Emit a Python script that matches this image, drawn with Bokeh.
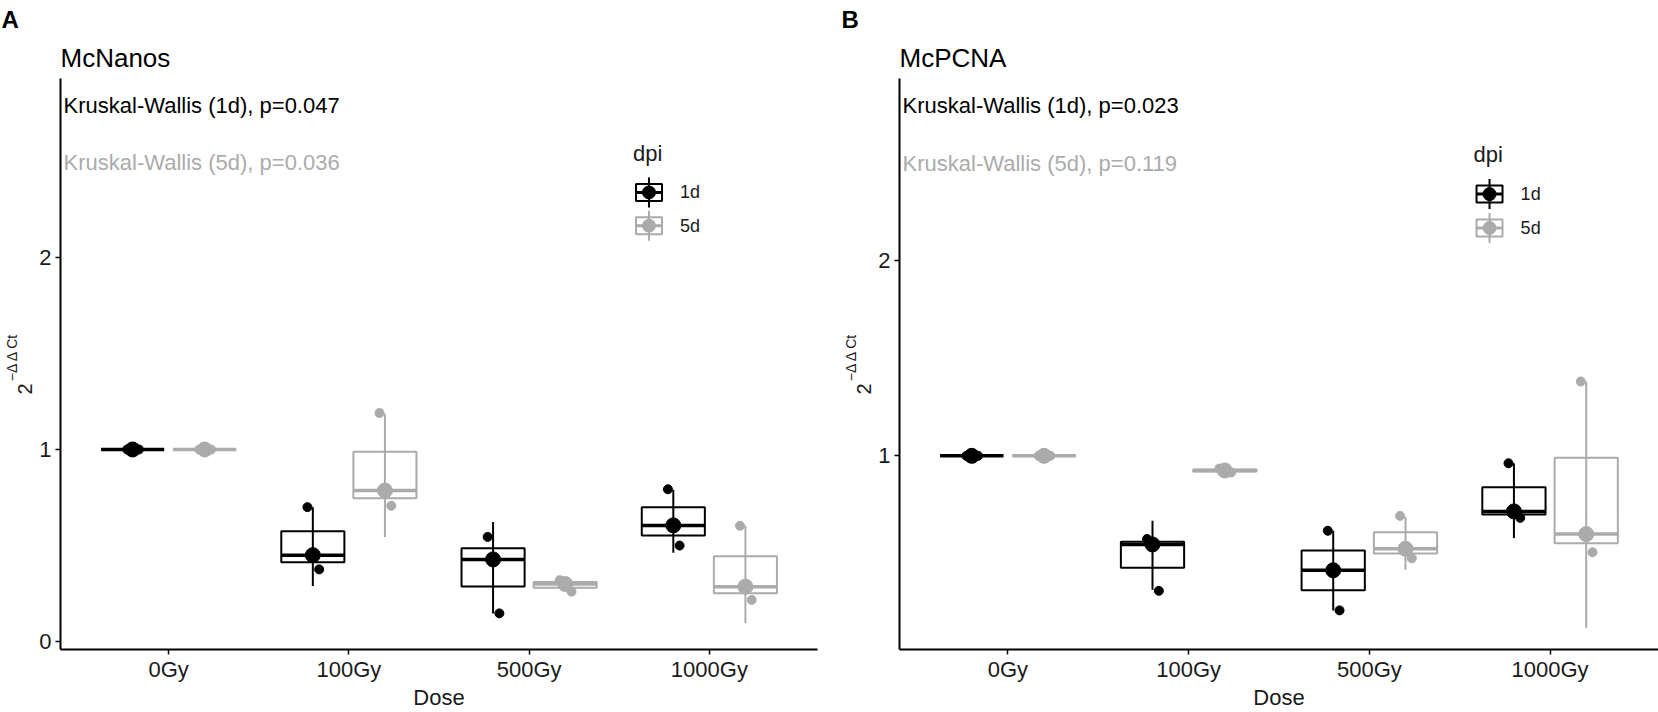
import numpy as np
from bokeh.plotting import figure
from bokeh.models import Range1d, FixedTicker, Label, Title
from bokeh.layouts import row
from bokeh.embed import file_html
from bokeh.resources import INLINE

# ---------------- data ----------------
doses = ["0Gy", "100Gy", "500Gy", "1000Gy"]
groups = ["1d", "5d"]

# McNanos (panel A): individual replicate values per dose
nanos_1d_points = [[1.0, 1.0, 1.0], [0.70, 0.45, 0.376], [0.545, 0.428, 0.147], [0.793, 0.605, 0.50]]
nanos_5d_points = [[1.0, 1.0, 1.0], [1.19, 0.786, 0.707], [0.32, 0.30, 0.26], [0.603, 0.286, 0.217]]
nanos_1d_range_lo = [1.0, 0.29, 0.147, 0.462]
nanos_1d_range_hi = [1.0, 0.70, 0.622, 0.79]
nanos_5d_range_lo = [1.0, 0.545, 0.265, 0.095]
nanos_5d_range_hi = [1.0, 1.186, 0.325, 0.603]
nanos_kw = ["Kruskal-Wallis (1d), p=0.047", "Kruskal-Wallis (5d), p=0.036"]

# McPCNA (panel B)
pcna_1d_points = [[1.0, 1.0, 1.0], [0.575, 0.547, 0.31], [0.617, 0.415, 0.21], [0.962, 0.716, 0.683]]
pcna_5d_points = [[1.0, 1.0, 1.0], [0.935, 0.925, 0.915], [0.693, 0.525, 0.476], [1.38, 0.60, 0.507]]
pcna_1d_range_lo = [1.0, 0.315, 0.21, 0.58]
pcna_1d_range_hi = [1.0, 0.668, 0.617, 0.962]
pcna_5d_range_lo = [1.0, 0.91, 0.418, 0.12]
pcna_5d_range_hi = [1.0, 0.94, 0.688, 1.38]
pcna_kw = ["Kruskal-Wallis (1d), p=0.023", "Kruskal-Wallis (5d), p=0.119"]

y_ticks = [0, 1, 2]

# ---------------- style ----------------
FONT = "Liberation Sans"
TXT = "#1A1A1A"
COLORS = {"1d": "#000000", "5d": "#ABABAB"}
DODGE = {"1d": -0.2, "5d": 0.2}
HALF_W = 0.175
JITTER = [-0.03, 0.01, 0.035]
# annotation anchors (data units)
KW_X, KW_Y = 0.417, [2.79, 2.495]
LEG_TITLE = (3.576, 2.54)
LEG_KEY_X, LEG_LAB_X, LEG_Y = 3.665, 3.837, [2.338, 2.165]


def make_panel(letter, title, pts, lo, hi, kw, x_rng, y_rng, width, left, right, letter_off):
    p = figure(width=width, height=712, title=None,
               x_range=Range1d(*x_rng), y_range=Range1d(*y_rng),
               output_backend="svg", toolbar_location=None,
               min_border_left=left, min_border_right=right,
               min_border_top=77, min_border_bottom=0)
    p.outline_line_color = None
    p.xgrid.visible = False
    p.ygrid.visible = False
    p.background_fill_color = "white"

    pos = np.arange(1, len(doses) + 1)
    p.xaxis.ticker = FixedTicker(ticks=list(pos))
    p.xaxis.major_label_overrides = {int(k): d for k, d in zip(pos, doses)}
    p.yaxis.ticker = FixedTicker(ticks=y_ticks)
    for ax in (p.xaxis[0], p.yaxis[0]):
        ax.axis_line_color = "black"
        ax.axis_line_width = 2
        ax.major_tick_line_color = "black"
        ax.major_tick_line_width = 1.5
        ax.major_tick_out = 5
        ax.major_tick_in = 0
        ax.minor_tick_line_color = None
        ax.major_label_text_font = FONT
        ax.major_label_text_font_size = "22px"
        ax.major_label_text_color = TXT
    p.xaxis.major_label_standoff = 2
    p.yaxis.major_label_standoff = 4
    p.xaxis.axis_label = "Dose"
    p.xaxis.axis_label_text_font = FONT
    p.xaxis.axis_label_text_font_size = "22px"
    p.xaxis.axis_label_text_font_style = "normal"
    p.xaxis.axis_label_text_color = TXT
    p.xaxis.axis_label_standoff = 0

    # titles above (first = nearest to the frame)
    p.add_layout(Title(text=title, align="left", text_font=FONT, text_font_size="26px",
                       text_font_style="normal", text_color="#000000", standoff=11), "above")
    p.add_layout(Title(text=letter, align="left", offset=letter_off, text_font=FONT,
                       text_font_size="24px", text_font_style="bold",
                       text_color="#000000", standoff=6), "above")

    # y-axis label 2^(-ΔΔCt) as two left titles, positioned from the frame top
    p.add_layout(Title(text="2", align="right", offset=305, text_font=FONT,
                       text_font_size="20px", text_font_style="normal",
                       text_color=TXT, standoff=10), "left")
    p.add_layout(Title(text="\u2212\u0394 \u0394 Ct", align="right", offset=254, text_font=FONT,
                       text_font_size="14px", text_font_style="normal",
                       text_color=TXT, standoff=-19), "left")

    for g in groups:
        c = COLORS[g]
        xs = pos + DODGE[g]
        arr = np.array(pts[g])
        q1, med, q3 = np.percentile(arr, [25, 50, 75], axis=1)
        p.quad(left=xs - HALF_W, right=xs + HALF_W, bottom=q1, top=q3,
               fill_alpha=0, line_color=c, line_width=2)
        p.segment(x0=xs - HALF_W, x1=xs + HALF_W, y0=med, y1=med,
                  line_color=c, line_width=3.5)
        p.segment(x0=xs, x1=xs, y0=lo[g], y1=hi[g], line_color=c, line_width=2)
        p.scatter(x=xs, y=med, size=15, color=c)
        jx = (xs[:, None] + np.array(JITTER)[None, :]).ravel()
        p.scatter(x=jx, y=arr.ravel(), size=9, color=c)

    # legend (dpi)
    for g, ky in zip(groups, LEG_Y):
        c = COLORS[g]
        p.rect(x=[LEG_KEY_X], y=[ky], width=26, height=17, width_units="screen",
               height_units="screen", fill_alpha=0, line_color=c, line_width=2)
        p.rect(x=[LEG_KEY_X], y=[ky], width=26, height=3, width_units="screen",
               height_units="screen", fill_color=c, line_color=None)
        p.rect(x=[LEG_KEY_X], y=[ky], width=2, height=30, width_units="screen",
               height_units="screen", fill_color=c, line_color=None)
        p.scatter(x=[LEG_KEY_X], y=[ky], size=13, color=c)
        p.add_layout(Label(x=LEG_LAB_X, y=ky, text=g, text_font=FONT, text_font_size="18px",
                           text_color=TXT, text_baseline="middle", text_align="left"))
    p.add_layout(Label(x=LEG_TITLE[0], y=LEG_TITLE[1], text="dpi", text_font=FONT,
                       text_font_size="22px", text_color=TXT,
                       text_baseline="middle", text_align="left"))

    # Kruskal-Wallis annotations
    for t, yy, c in zip(kw, KW_Y, [COLORS["1d"], COLORS["5d"]]):
        p.add_layout(Label(x=KW_X, y=yy, text=t, text_font=FONT, text_font_size="22px",
                           text_color=c, text_baseline="middle", text_align="left"))
    return p


pA = make_panel("A", "McNanos",
                {"1d": nanos_1d_points, "5d": nanos_5d_points},
                {"1d": nanos_1d_range_lo, "5d": nanos_5d_range_lo},
                {"1d": nanos_1d_range_hi, "5d": nanos_5d_range_hi},
                nanos_kw, (0.4, 4.6), (-0.041, 2.931), 837, 60, 20, -59)
pB = make_panel("B", "McPCNA",
                {"1d": pcna_1d_points, "5d": pcna_5d_points},
                {"1d": pcna_1d_range_lo, "5d": pcna_5d_range_lo},
                {"1d": pcna_1d_range_hi, "5d": pcna_5d_range_hi},
                pcna_kw, (0.4, 4.6), (0.010, 2.929), 821, 62, 0, -58)

layout = row(pA, pB)
open("out.html", "w").write(file_html(layout, INLINE))
